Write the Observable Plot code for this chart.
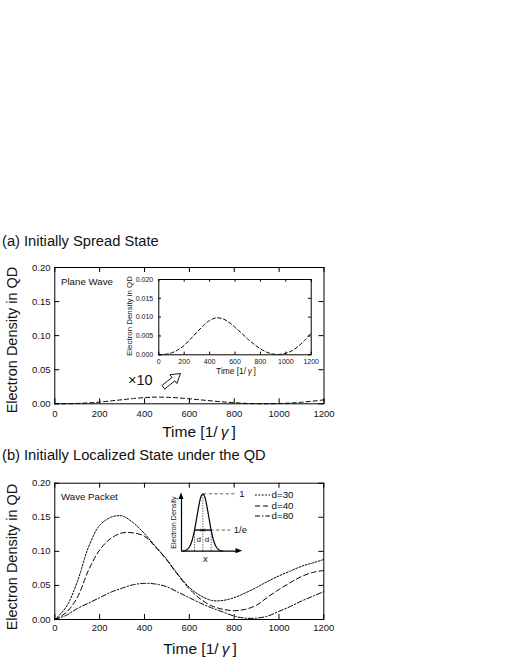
<!DOCTYPE html>
<html><head><meta charset="utf-8">
<script src="https://cdn.jsdelivr.net/npm/d3@7"></script>
<script src="https://cdn.jsdelivr.net/npm/@observablehq/plot@0.6"></script>
<style>
body{margin:0;background:#fff;}
#root{position:relative;width:510px;height:660px;overflow:hidden;font-family:"Liberation Sans",Arial,sans-serif;color:#111;background:#fff;}
#root svg{position:absolute;overflow:visible;}
.t{position:absolute;white-space:nowrap;line-height:1;color:#111;}
</style></head><body><div id="root"></div>
<script>
// ---------- data ----------
const timeA = [0,50,100,150,200,250,300,350,400,450,500,550,600,650,700,750,800,850,900,950,1000,1050,1100,1150,1200];
const planeWave = [0,0.0001,0.0005,0.0013,0.0025,0.0042,0.006,0.0077,0.0091,0.0098,0.0096,0.0087,0.0073,0.0058,0.0042,0.0028,0.0016,0.0007,0.0002,0.0001,0.0004,0.0011,0.0023,0.0039,0.0058];
const timeB = [0,50,100,150,200,250,300,350,400,450,500,550,600,650,700,750,800,850,900,950,1000,1050,1100,1150,1200];
const d30 = [0,0.018,0.055,0.106,0.138,0.150,0.152,0.142,0.126,0.107,0.088,0.066,0.047,0.035,0.028,0.028,0.032,0.039,0.047,0.056,0.064,0.071,0.078,0.083,0.088];
const d40 = [0,0.010,0.032,0.072,0.102,0.119,0.127,0.127,0.122,0.106,0.087,0.065,0.045,0.030,0.020,0.015,0.013,0.015,0.021,0.033,0.044,0.054,0.063,0.069,0.072];
const d80 = [0,0.006,0.016,0.024,0.032,0.040,0.046,0.051,0.053,0.052,0.048,0.040,0.032,0.024,0.017,0.011,0.005,0.002,0.002,0.005,0.012,0.019,0.027,0.034,0.041];
const seriesNames = ["d=30","d=40","d=80"];
const seriesDash = ["1.8,1.6","5,3","5,2,1.4,2"];
const xTickValues = [0,200,400,600,800,1000,1200];
const yTicksMain = [0,0.05,0.10,0.15,0.20];
const yTicksInset = [0,0.005,0.010,0.015,0.020];
// schematic Gaussian (in units of d, relative height)
const gaussU = [-2.4,-2.0,-1.6,-1.3,-1.0,-0.7,-0.4,-0.2,0,0.2,0.4,0.7,1.0,1.3,1.6,2.0,2.4];
const gaussV = [0.003,0.018,0.077,0.185,0.368,0.613,0.852,0.961,1,0.961,0.852,0.613,0.368,0.185,0.077,0.018,0.003];

const FONT = '"Liberation Sans", Arial, sans-serif';
const root = document.getElementById("root");
const rowsA = timeA.map((t,i)=>({t, v: planeWave[i]}));
const seriesB = [d30,d40,d80].map(arr => timeB.map((t,i)=>({t, v: arr[i]})));

function panel(o){
  const mL = o.plotL - o.left, mR = o.left + o.w - o.plotR, mT = o.plotT - o.top, mB = o.top + o.h - o.plotB;
  const pw = o.plotR - o.plotL, ph = o.plotB - o.plotT;
  const lx = o.tick * (o.xd[1]-o.xd[0]) / pw, ly = o.tick * (o.yd[1]-o.yd[0]) / ph;
  const svg = Plot.plot({
    width: o.w, height: o.h, marginLeft: mL, marginRight: mR, marginTop: mT, marginBottom: mB,
    style: {fontFamily: FONT, fontSize: o.fs + "px", background: "transparent", color: "#111", overflow: "visible"},
    x: {domain: o.xd, ticks: o.xt, tickSize: 0, tickPadding: o.xpad, label: null, tickFormat: d => String(d)},
    y: {domain: o.yd, ticks: o.yt, tickSize: 0, tickPadding: o.ypad, label: null, tickFormat: o.yfmt},
    marks: [
      Plot.ruleX(o.xt, {x: d=>d, y1: o.yd[0], y2: o.yd[0]+ly, stroke: "#000"}),
      Plot.ruleX(o.xt, {x: d=>d, y1: o.yd[1], y2: o.yd[1]-ly, stroke: "#000"}),
      Plot.ruleY(o.yt, {y: d=>d, x1: o.xd[0], x2: o.xd[0]+lx, stroke: "#000"}),
      Plot.ruleY(o.yt, {y: d=>d, x1: o.xd[1], x2: o.xd[1]-lx, stroke: "#000"}),
      ...o.marks(pw/(o.xd[1]-o.xd[0]), ph/(o.yd[1]-o.yd[0])),
      Plot.frame({stroke: o.frameStroke || "#000", strokeWidth: o.frameWidth || 1})
    ]
  });
  svg.style.left = o.left + "px"; svg.style.top = o.top + "px";
  root.appendChild(svg);
  return svg;
}

function text(html, x, baseline, fs, anchor="start", extra={}){
  const el = document.createElement("div");
  el.className = "t"; el.innerHTML = html;
  el.style.fontSize = fs + "px";
  el.style.top = (baseline - 0.8465*fs) + "px";
  el.style.left = x + "px";
  if (anchor === "middle") el.style.transform = "translateX(-50%)";
  Object.assign(el.style, extra);
  root.appendChild(el);
}
function vtext(html, cx, cy, fs){
  const el = document.createElement("div");
  el.className = "t"; el.innerHTML = html;
  el.style.fontSize = fs + "px";
  el.style.left = cx + "px"; el.style.top = cy + "px";
  el.style.transform = "translate(-50%,-50%) rotate(-90deg)";
  root.appendChild(el);
}

function blockArrow(tail, tip, kx, ky, sh, hh, hl){
  const dx = (tip.t-tail.t)*kx, dy = (tip.v-tail.v)*ky;
  const L = Math.hypot(dx,dy), ex = dx/L, ey = dy/L, nx = -ey, ny = ex, a = L-hl;
  const loc = [[0,-sh],[a,-sh],[a,-hh],[L,0],[a,hh],[a,sh],[0,sh],[0,-sh]];
  return loc.map(([p,q]) => ({t: tail.t + (p*ex+q*nx)/kx, v: tail.v + (p*ey+q*ny)/ky}));
}
const arrowTail = {t: 484, v: 0.0243}, arrowTip = {t: 560, v: 0.0445};

// ---------- Panel (a) ----------
text("(a) Initially Spread State", 2, 246, 14.7);
panel({left:0, top:250, w:510, h:195, plotL:54.3, plotR:323.5, plotT:267, plotB:403.3,
  xd:[0,1200], yd:[0,0.2], xt:xTickValues, yt:yTicksMain, yfmt: d3.format(".2f"),
  fs:9.5, tick:5, xpad:6.7, ypad:4.3,
  marks:(kx,ky)=>[
    Plot.line(rowsA, {x:"t", y:"v", stroke:"#000", strokeWidth:1, strokeDasharray:"4,3", curve:"catmull-rom"}),
    Plot.line(blockArrow(arrowTail, arrowTip, kx, ky, 2.2, 5.6, 9), {x:"t", y:"v", stroke:"#000", strokeWidth:0.9, strokeLinejoin:"miter"})
  ]});
vtext("Electron Density in QD", 11.7, 340, 14.5);
text("Time [1/\u2009<i>γ</i>\u2009]", 199, 437.5, 15.5, "middle");
text("Plane Wave", 61, 285, 9.7);
text("×10", 128, 385.7, 14.5);

// inset (a)
panel({left:110, top:272, w:210, h:100, plotL:158.3, plotR:310.7, plotT:279, plotB:354.3,
  xd:[0,1200], yd:[0,0.02], xt:xTickValues, yt:yTicksInset, yfmt: d3.format(".3f"),
  fs:7, tick:2.7, xpad:4, ypad:5.6,
  marks:()=>[
    Plot.line(rowsA, {x:"t", y:"v", stroke:"#000", strokeWidth:1, strokeDasharray:"3.5,2.5", curve:"catmull-rom"})
  ]});
vtext("Electron Density in QD", 130, 316, 7.9);
text("Time [1/\u2009<i>γ</i>\u2009]", 236, 374, 8.4, "middle");

// ---------- Panel (b) ----------
text("(b) Initially Localized State under the QD", 2, 460.7, 14.7);
panel({left:0, top:466, w:510, h:180, plotL:54.3, plotR:323.3, plotT:482.7, plotB:619,
  xd:[0,1200], yd:[0,0.2], xt:xTickValues, yt:yTicksMain, yfmt: d3.format(".2f"),
  fs:9.5, tick:5, xpad:4.3, ypad:4.3,
  marks:()=> seriesB.map((rows,i)=>
    Plot.line(rows, {x:"t", y:"v", stroke:"#000", strokeWidth:1, strokeDasharray: seriesDash[i], curve:"catmull-rom"}))
  });
vtext("Electron Density in QD", 11.7, 557, 14.5);
text("Time [1/\u2009<i>γ</i>\u2009]", 200, 654, 15.5, "middle");
text("Wave Packet", 61, 500, 9.7);

// legend
const ns = "http://www.w3.org/2000/svg";
seriesNames.forEach((name,i)=>{
  const cy = 495.3 + i*10.2;
  const s = document.createElementNS(ns,"svg");
  s.setAttribute("width","16"); s.setAttribute("height","4");
  s.style.left = "255px"; s.style.top = (cy-2)+"px";
  const ln = document.createElementNS(ns,"line");
  ln.setAttribute("x1","0"); ln.setAttribute("x2","15"); ln.setAttribute("y1","2"); ln.setAttribute("y2","2");
  ln.setAttribute("stroke","#000"); ln.setAttribute("stroke-width","1"); ln.setAttribute("stroke-dasharray", seriesDash[i]);
  s.appendChild(ln); root.appendChild(s);
  text(name, 271.5, cy + 3.4, 9.8);
});

// schematic Gaussian inset
const gauss = gaussU.map((u,i)=>({u, g: gaussV[i]}));
const inv_e = 0.368;
const schem = Plot.plot({
  width:100, height:90, marginLeft:21, marginRight:18, marginTop:13.3, marginBottom:19.3,
  style:{fontFamily: FONT, fontSize:"9px", background:"transparent", color:"#111", overflow:"visible"},
  x:{domain:[-2.57,4.78], axis:null}, y:{domain:[0,1], axis:null},
  marks:[
    Plot.ruleX([{u:-1,top:inv_e},{u:0,top:1},{u:1,top:inv_e}], {x:"u", y1:0, y2:"top", stroke:"#555", strokeWidth:1, strokeDasharray:"1.3,1.3"}),
    Plot.ruleY([1], {x1:0.12, x2:3.95, stroke:"#333", strokeWidth:0.8, strokeDasharray:"3,2.6"}),
    Plot.ruleY([inv_e], {x1:1, x2:3.6, stroke:"#333", strokeWidth:0.8, strokeDasharray:"3,2.6"}),
    Plot.ruleY([inv_e], {x1:-1, x2:1, stroke:"#000", strokeWidth:1}),
    Plot.arrow([{a:-1,b:-0.05},{a:1,b:0.05}], {x1:"a", x2:"b", y1:inv_e, y2:inv_e, stroke:"#000", strokeWidth:0.8, headLength:3.5}),
    Plot.line(gauss, {x:"u", y:"g", curve:"catmull-rom", stroke:"#000", strokeWidth:1.2}),
    Plot.ruleY([0], {x1:-2.57, x2:4.1, stroke:"#000", strokeWidth:1.2}),
    Plot.ruleX([-2.57], {y1:0, y2:0.92, stroke:"#000", strokeWidth:1.2}),
    Plot.areaY([{u:4.0,lo:-0.045,hi:0.045},{u:4.8,lo:0,hi:0}], {x:"u", y1:"lo", y2:"hi", fill:"#000"}),
    Plot.areaX([{w:0.9,lo:-2.87,hi:-2.27},{w:1.02,lo:-2.57,hi:-2.57}], {y:"w", x1:"lo", x2:"hi", fill:"#000"}),
    Plot.text(["1"], {x:4.4, y:1, text:d=>d, textAnchor:"start", fontSize:9.5}),
    Plot.text(["1/e"], {x:3.72, y:inv_e, text:d=>d, textAnchor:"start", fontSize:9.5}),
    Plot.text(["d","d"], {x:(d,i)=> i? 0.5 : -0.5, y:0.2, text:d=>d, fontSize:8}),
    Plot.text(["x"], {x:0.3, y:-0.13, text:d=>d, fontSize:9.5}),
    Plot.text(["Electron Density"], {x:-3.53, y:0.5, text:d=>d, rotate:-90, fontSize:7.2})
  ]
});
schem.style.left = "160px"; schem.style.top = "480px";
root.appendChild(schem);
</script></body></html>
